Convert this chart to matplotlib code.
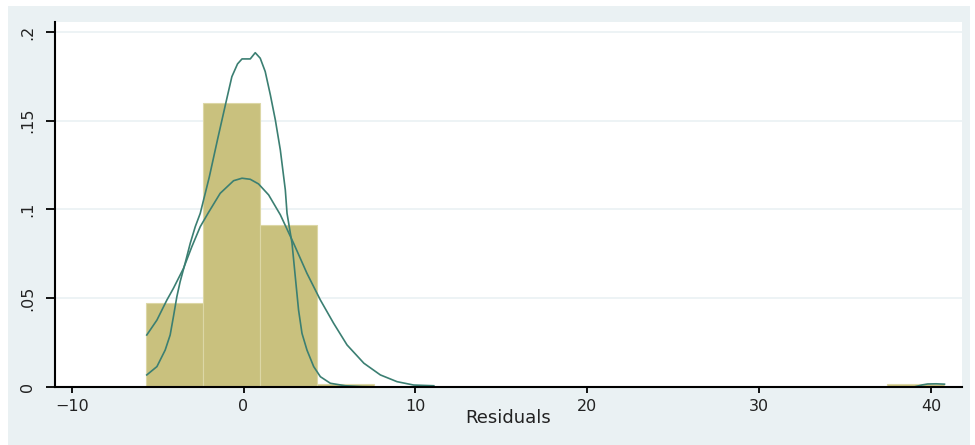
import numpy as np
import matplotlib
matplotlib.use("Agg")
from matplotlib import pyplot as plt
from matplotlib.patches import Rectangle

## Data -----------------------------------------------------------------------
# histogram bins (density)
bin_edges = [-5.70, -2.38, 0.94, 4.26, 7.58, 10.90, 14.22, 17.54, 20.86,
             24.18, 27.50, 30.82, 34.14, 37.46, 40.78]
bin_heights = [0.0475, 0.1600, 0.0913, 0.0015, 0, 0, 0, 0, 0, 0, 0, 0, 0, 0.0015]

# kernel density curve
kd_x = [-5.63, -5.04, -4.56, -4.27, -4.08, -3.88, -3.69, -3.40, -3.10, -2.81,
        -2.52, -2.00, -1.50, -0.97, -0.68, -0.35, -0.09, 0.39, 0.68, 0.97,
        1.26, 1.56, 1.85, 2.14, 2.43, 2.53, 2.82, 3.01, 3.20, 3.40, 3.69,
        4.08, 4.47, 5.05, 5.92, 6.90, 8.00, 39.00, 39.50, 39.80, 40.30, 40.78]
kd_y = [0.0068, 0.0115, 0.0208, 0.0293, 0.0396, 0.0509, 0.0593, 0.0697, 0.0810, 0.0903,
        0.0978, 0.1180, 0.1400, 0.1626, 0.1748, 0.1820, 0.1848, 0.1848, 0.1883, 0.1852,
        0.1777, 0.1645, 0.1504, 0.1335, 0.1110, 0.0978, 0.0810, 0.0621, 0.0434, 0.0302, 0.0208,
        0.0115, 0.0058, 0.0021, 0.0007, 0.0002, 0.0, 0.0, 0.0012, 0.0017, 0.0018, 0.0016]

# normal density curve
nd_x = [-5.63, -5.04, -4.46, -4.08, -3.49, -3.01, -2.52, -2.04, -1.36, -0.58,
        -0.09, 0.39, 0.87, 1.46, 2.14, 2.91, 3.69, 4.47, 5.24, 6.02,
        7.00, 7.96, 8.93, 9.90, 11.07]
nd_y = [0.0293, 0.0377, 0.0490, 0.0556, 0.0669, 0.0790, 0.0903, 0.0983, 0.1091, 0.1162,
        0.1176, 0.1170, 0.1144, 0.1082, 0.0970, 0.0810, 0.0640, 0.0490, 0.0359, 0.0237,
        0.0134, 0.0068, 0.0030, 0.0011, 0.0007]

x_ticks = [-10, 0, 10, 20, 30, 40]
y_ticks = [0, 0.05, 0.1, 0.15, 0.2]
y_labels = ["0", ".05", ".1", ".15", ".2"]

## Plot -----------------------------------------------------------------------
plt.rcParams['font.family'] = ['DejaVu Sans']

W, H = 975, 445
fig = plt.figure(figsize=(W / 100, H / 100), dpi=100, facecolor='white')

# stata-like light blue panel
fig.patches.append(Rectangle((8 / W, 0), (970 - 8) / W, (H - 6) / H,
                             transform=fig.transFigure, facecolor='#eaf1f3',
                             edgecolor='none', zorder=-10))

ax = fig.add_axes([55 / W, (H - 387) / H, (962 - 55) / W, (387 - 22) / H])
ax.set_facecolor('white')
ax.set_zorder(1)

edges = np.array(bin_edges)
ax.bar(edges[:-1], bin_heights, width=np.diff(edges), align='edge',
       color='#c9c17e', edgecolor='#dcd7a6', linewidth=0.8, zorder=2)

ax.plot(kd_x, kd_y, color='#3b7f72', linewidth=1.2, zorder=3)
ax.plot(nd_x, nd_y, color='#3b7f72', linewidth=1.2, zorder=3)

ax.set_xlim(-10.97, 41.8)
ax.set_ylim(0, 0.2056)

# light horizontal grid
for y in y_ticks[1:]:
    ax.axhline(y, color='#eaf1f3', linewidth=1.2, zorder=1)

ax.set_xticks(x_ticks)
ax.set_yticks(y_ticks)
ax.set_yticklabels(y_labels, rotation=90, va='center')

ax.spines['top'].set_visible(False)
ax.spines['right'].set_visible(False)
for s in ['left', 'bottom']:
    ax.spines[s].set_linewidth(1.5)
    ax.spines[s].set_zorder(4)

ax.tick_params(axis='x', direction='out', length=4.5, width=1.3, pad=4,
               labelsize=11.5)
ax.tick_params(axis='y', direction='out', length=6.5, width=1.3, pad=8,
               labelsize=11.5)
ax.tick_params(colors='black', which='both', labelcolor='#222222')

fig.text(508 / W, 1 - 418 / H, 'Residuals', ha='center', va='center',
         fontsize=13, color='#222222')

fig.savefig('out.png', dpi=100)
